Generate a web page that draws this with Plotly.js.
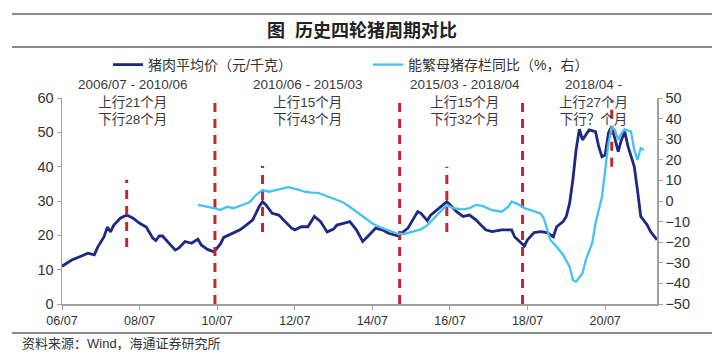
<!DOCTYPE html>
<html>
<head>
<meta charset="utf-8">
<script src="https://cdn.plot.ly/plotly-3.0.1.min.js"></script>
<style>html,body{margin:0;padding:0;background:#fff;}#chart{width:720px;height:354px;}</style>
</head>
<body>
<div id="chart"></div>
<script>
// 猪肉平均价（元/千克）
var porkDates = ['2006-07','2006-10','2007-01','2007-03','2007-05','2007-06','2007-08','2007-09','2007-10','2007-11',
'2008-01','2008-03','2008-05','2008-07','2008-09','2008-11','2008-12','2009-01','2009-02','2009-04','2009-06','2009-07',
'2009-09','2009-11','2010-01','2010-02','2010-04','2010-06','2010-08','2010-09','2010-12','2011-02','2011-04','2011-06',
'2011-08','2011-09','2011-10','2011-12','2012-02','2012-04','2012-06','2012-07','2012-09','2012-11','2013-01','2013-03',
'2013-05','2013-07','2013-08','2013-10','2013-12','2014-02','2014-04','2014-06','2014-08','2014-10','2014-12','2015-03',
'2015-06','2015-09','2015-10','2015-12','2016-01','2016-03','2016-06','2016-07','2016-09','2016-11','2017-01','2017-03',
'2017-06','2017-08','2017-11','2018-02','2018-03','2018-06','2018-07','2018-09','2018-11','2019-01','2019-03','2019-04',
'2019-06','2019-07','2019-08','2019-09','2019-10','2019-11','2019-12','2020-02','2020-04','2020-05','2020-06','2020-07',
'2020-08','2020-09','2020-10','2020-11','2020-12','2021-01','2021-02','2021-04','2021-05','2021-06','2021-08','2021-09','2021-11'];
var porkPrice = [11.0,12.8,14.0,14.8,14.3,16.5,19.6,22.4,21.0,23.0,
25.0,25.9,25.0,23.5,22.4,19.2,18.5,19.8,19.8,17.7,15.7,16.2,
18.2,17.7,18.9,17.2,15.9,15.2,17.5,19.4,20.6,21.6,23.0,24.5,
28.4,29.8,28.9,26.4,25.9,24.0,22.1,21.6,22.5,22.5,25.5,24.0,
21.0,21.8,23.0,23.5,24.0,21.6,18.2,20.1,22.1,21.6,20.6,19.8,
22.1,26.9,26.4,24.3,25.9,27.4,29.8,28.9,26.9,25.5,25.9,24.5,
21.6,21.1,21.6,21.6,19.6,16.9,18.7,20.8,21.1,20.8,19.6,22.5,
24.0,25.5,29.3,36.2,44.9,50.9,47.8,50.7,50.2,45.9,42.9,43.4,
49.8,51.7,48.3,44.4,47.8,50.2,45.9,40.0,33.2,25.5,23.0,21.1,18.7];

// 能繁母猪存栏同比（%，右）
var sowDates = ['2010-01','2010-04','2010-06','2010-08','2010-10','2010-12','2011-02','2011-05','2011-07','2011-09',
'2011-11','2012-01','2012-03','2012-05','2012-08','2012-10','2012-12','2013-02','2013-04','2013-07','2013-10','2014-01',
'2014-04','2014-07','2014-09','2014-11','2015-01','2015-03','2015-05','2015-08','2015-10','2015-12','2016-02','2016-04',
'2016-06','2016-08','2016-11','2017-01','2017-03','2017-05','2017-08','2017-11','2018-01','2018-02','2018-04','2018-06',
'2018-08','2018-11','2018-12','2019-01','2019-02','2019-04','2019-06','2019-08','2019-09','2019-10','2019-12','2020-01',
'2020-03','2020-04','2020-06','2020-07','2020-08','2020-09','2020-10','2020-11','2020-12','2021-01','2021-03','2021-04',
'2021-05','2021-06','2021-07'];
var sowYoY = [-1.9,-2.8,-3.5,-4.4,-2.8,-3.5,-2.3,-0.6,2.9,5.3,
4.5,5.3,6.0,6.7,5.5,4.5,4.1,3.9,2.9,1.3,-0.7,-4.0,
-7.6,-10.9,-12.5,-13.8,-14.9,-16.0,-16.0,-14.9,-13.8,-11.7,-8.4,-5.2,
-1.9,-3.5,-4.1,-3.5,-1.9,-2.4,-4.4,-5.2,-2.8,-0.3,-1.5,-3.5,
-4.4,-6.0,-8.4,-14.1,-18.9,-22.2,-26.2,-31.9,-38.3,-39.2,-35.1,-28.6,
-20.5,-10.8,2.1,15.0,28.0,36.1,34.5,29.6,32.9,34.8,33.7,24.8,
19.9,25.6,24.8];

// 周期分界（长虚线）与高点（短虚线）
var cycleDates = ['2010-06-10','2015-03-15','2018-05-15'];
var cycleLow = [0, 0, 0];
var cycleHigh = [60, 60, 60];
var peakDates = ['2008-03-01','2011-09-01','2016-06-01','2020-09-01'];
var peakLow = [16.6, 21.0, 21.0, 40.0];
var peakHigh = [36.2, 40.2, 40.0, 59.2];

var cycleTitles = ['2006/07 - 2010/06','2010/06 - 2015/03','2015/03 - 2018/04','2018/04 -'];
var upMonths = ['上行21个月','上行15个月','上行15个月','上行27个月'];
var downMonths = ['下行28个月','下行43个月','下行32个月','下行？个月'];
var labelDates = ['2008-05-01','2012-11-01','2016-11-15','2020-03-15'];

var legendNames = ['猪肉平均价（元/千克）','能繁母猪存栏同比（%，右）'];

function segs(dates, lo, hi) {
  var xs = [], ys = [];
  for (var i = 0; i < dates.length; i++) {
    xs.push(dates[i], dates[i], null);
    ys.push(lo[i], hi[i], null);
  }
  return {x: xs, y: ys};
}
var cyc = segs(cycleDates, cycleLow, cycleHigh);
var pk = segs(peakDates, peakLow, peakHigh);

var FONT = 'Liberation Sans, Arial, Noto Sans CJK SC, sans-serif';
var RED = '#C0282E';

var traces = [
  {x: porkDates, y: porkPrice, type: 'scatter', mode: 'lines', name: legendNames[0],
   line: {color: '#1F2883', width: 2.8}, yaxis: 'y'},
  {x: sowDates, y: sowYoY, type: 'scatter', mode: 'lines', name: legendNames[1],
   line: {color: '#45C2F0', width: 2.3}, yaxis: 'y2'},
  {x: cyc.x, y: cyc.y, type: 'scatter', mode: 'lines', showlegend: false, hoverinfo: 'skip',
   line: {color: RED, width: 3, dash: '9px,7px'}, yaxis: 'y'},
  {x: pk.x, y: pk.y, type: 'scatter', mode: 'lines', showlegend: false, hoverinfo: 'skip',
   line: {color: RED, width: 3, dash: '9px,7px'}, yaxis: 'y'}
];

var annotations = [];
for (var i = 0; i < cycleTitles.length; i++) {
  annotations.push({
    xref: 'x', yref: 'paper', x: labelDates[i], y: (304 - 102) / 206,
    text: cycleTitles[i] + '<br>' + upMonths[i] + '<br>' + downMonths[i],
    showarrow: false, xanchor: 'center', yanchor: 'middle', align: 'center',
    font: {family: FONT, size: 13.5, color: '#3a3a3a'}
  });
}
annotations.push({
  xref: 'paper', yref: 'paper', x: (20 - 62) / 595, y: (304 - 343) / 206,
  text: '资料来源：Wind，海通证券研究所', showarrow: false, xanchor: 'left', yanchor: 'middle',
  font: {family: FONT, size: 13, color: '#333'}
});

var ruleStyle = {color: '#8c8c8c', width: 2};
var shapes = [
  {type: 'line', xref: 'paper', yref: 'paper', x0: (12 - 62) / 595, x1: (712 - 62) / 595,
   y0: (304 - 14) / 206, y1: (304 - 14) / 206, line: ruleStyle},
  {type: 'line', xref: 'paper', yref: 'paper', x0: (12 - 62) / 595, x1: (712 - 62) / 595,
   y0: (304 - 47) / 206, y1: (304 - 47) / 206, line: ruleStyle},
  {type: 'line', xref: 'paper', yref: 'paper', x0: (12 - 62) / 595, x1: (712 - 62) / 595,
   y0: (304 - 333) / 206, y1: (304 - 333) / 206, line: ruleStyle}
];

var layout = {
  width: 720, height: 354,
  margin: {l: 62, r: 63, t: 98, b: 50},
  paper_bgcolor: '#fff', plot_bgcolor: '#fff',
  font: {family: FONT, color: '#333'},
  title: {text: '<b>图  历史四轮猪周期对比</b>', x: 362 / 720, xref: 'container', xanchor: 'center',
          y: 1 - 31 / 354, yref: 'container', yanchor: 'middle',
          font: {family: FONT, size: 18, color: '#222'}},
  showlegend: true,
  legend: {orientation: 'h', x: (108 - 62) / 595, xanchor: 'left', y: (304 - 65) / 206, yanchor: 'middle',
           font: {family: FONT, size: 14, color: '#333'}, bgcolor: 'rgba(0,0,0,0)',
           entrywidth: 215, entrywidthmode: 'pixels', itemwidth: 30, traceorder: 'normal'},
  xaxis: {type: 'date', range: ['2006-07-01', '2021-11-01'], tick0: '2006-07-01', dtick: 'M24',
          tickformat: '%y/%m', showgrid: false, zeroline: false, showline: true, linecolor: '#a0a0a0', linewidth: 1.5,
          ticks: 'outside', ticklen: 4, tickcolor: '#a0a0a0', tickfont: {family: FONT, size: 12.5, color: '#333'}},
  yaxis: {range: [0, 60], dtick: 10, showgrid: false, zeroline: false, showline: true, linecolor: '#a0a0a0', linewidth: 1.5,
          ticks: 'outside', ticklen: 4, tickcolor: '#a0a0a0', tickfont: {family: FONT, size: 14.5, color: '#333'}},
  yaxis2: {range: [-50, 50], dtick: 10, overlaying: 'y', side: 'right', showgrid: false, zeroline: false,
           showline: true, linecolor: '#a0a0a0', linewidth: 1.5, ticks: 'outside', ticklen: 4, tickcolor: '#a0a0a0',
           tickfont: {family: FONT, size: 14.5, color: '#333'}},
  annotations: annotations,
  shapes: shapes
};

Plotly.newPlot('chart', traces, layout, {staticPlot: true, displayModeBar: false});
</script>
</body>
</html>
